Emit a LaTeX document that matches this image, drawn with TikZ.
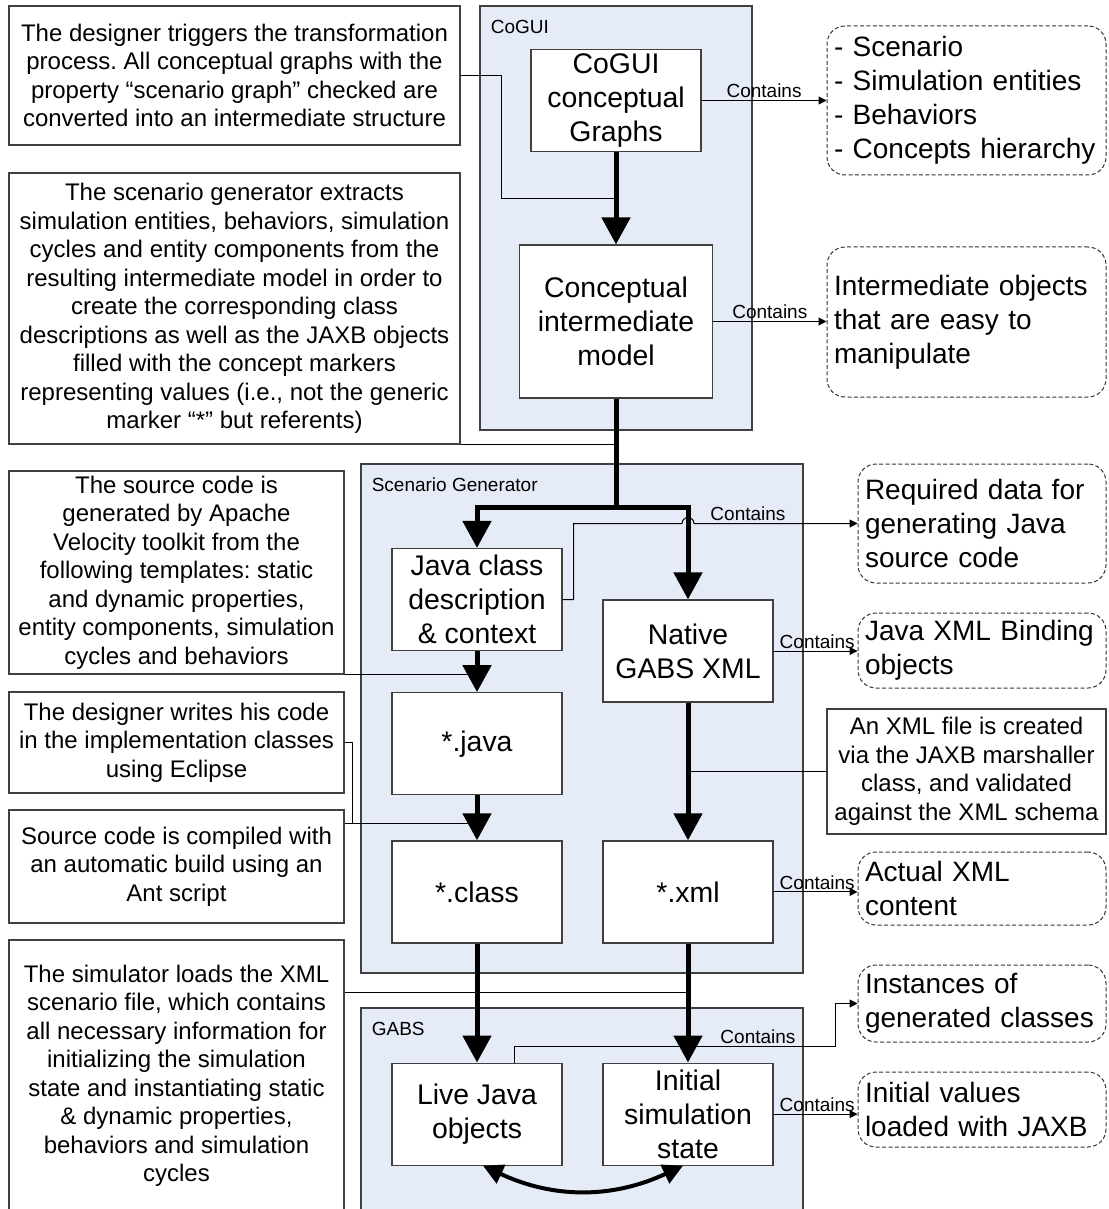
\documentclass[tikz,border=0pt]{standalone}
\usepackage{fontspec}
\setmainfont{Liberation Sans}
\frenchspacing
\usetikzlibrary{calc, positioning}
\usetikzlibrary{arrows.meta}
\definecolor{groupfill}{RGB}{230,236,247}
\definecolor{lineborder}{RGB}{64,64,64}
\def\mw{85pt}
\def\mh{51pt}
\tikzset{
    border/.style = {
        draw=lineborder, fill=white, rectangle, minimum width=\mw, minimum height=\mh, align=center, inner sep=0pt, line width=0.6pt,
        font=\fontsize{14.2}{17}\selectfont
    },
    noteborder/.style = {
        draw=lineborder, fill=white, rectangle, align=center, inner xsep=2pt, inner ysep=1pt, line width=0.6pt,
        font=\fontsize{12}{14.25}\selectfont
    },
    databorder/.style = {
        draw=black!80, rectangle, rounded corners=9pt, dash pattern=on 2pt off 1.2pt, line width=0.5pt,
        align=left, inner xsep=3.5pt, inner ysep=0pt, text width=#1,
        font=\fontsize{14}{17}\selectfont
    },
    groupborder/.style = {
        draw=lineborder, fill=groupfill, rectangle, line width=0.6pt
    },
    grouplabel/.style = {
        inner sep=0pt, font=\fontsize{9.5}{11}\selectfont
    },
}
\tikzset{
    flow/.style = {line width=2.5pt, -{Triangle[width=14pt,length=13.5pt]}},
    twoway/.style = {line width=2pt, {Triangle[width=10pt,length=10pt]}-{Triangle[width=10pt,length=10pt]}},
    contains/.style = {line width=0.5pt, -{Triangle[width=4pt,length=4pt]}},
    link/.style = {line width=0.5pt},
    ctext/.style = {above, inner sep=1pt, font=\fontsize{9.5}{11}\selectfont},
}

\begin{document}
\begin{tikzpicture}[x=0.5pt, y=-0.5pt]
        \useasboundingbox (0,0) rectangle (1108,1209);

        % Groups
        \node[groupborder, minimum width=136pt, minimum height=212pt] (cogui) at (616,218) {};
        \node[grouplabel, below right=7pt and 5.5pt of cogui.north west] (coguilabel) {CoGUI};
        \node[groupborder, minimum width=221pt, minimum height=254.5pt] (scengen) at (582,718.5) {};
        \node[grouplabel, below right=7pt and 5.5pt of scengen.north west] (scengenlabel) {Scenario Generator};
        \node[groupborder, minimum width=221pt, minimum height=116pt] (gabs) at (582,1124) {};
        \node[grouplabel, below right=7pt and 5.5pt of gabs.north west] (gabslabel) {GABS};

        % Notes
        \node[noteborder, minimum width=225.5pt, minimum height=69.5pt] (trigger) at (234.5,75.5)
            {The designer triggers the transformation\\process. All conceptual graphs with the\\property “scenario graph” checked are\\converted into an intermediate structure};
        \node[noteborder, minimum width=225.5pt, minimum height=135.5pt] (extract) at (234.5,308.5)
            {The scenario generator extracts\\simulation entities, behaviors, simulation\\cycles and entity components from the\\resulting intermediate model in order to\\create the corresponding class\\descriptions as well as the JAXB objects\\filled with the concept markers\\representing values (i.e., not the generic\\marker “*” but referents)};
        \node[noteborder, minimum width=167.5pt, minimum height=101.5pt] (velocity) at (176.5,572.5)
            {The source code is\\generated by Apache\\Velocity toolkit from the\\following templates: static\\and dynamic properties,\\entity components, simulation\\cycles and behaviors};
        \node[noteborder, minimum width=167.5pt, minimum height=50.5pt] (eclipse) at (176.5,742.5)
            {The designer writes his code\\in the implementation classes\\using Eclipse};
        \node[noteborder, minimum width=167.5pt, minimum height=56.5pt] (antbuild) at (176.5,866.5)
            {Source code is compiled with\\an automatic build using an\\Ant script};
        \node[noteborder, minimum width=167.5pt, minimum height=136pt] (simload) at (176.5,1076)
            {The simulator loads the XML\\scenario file, which contains\\all necessary information for\\initializing the simulation\\state and instantiating static\\\& dynamic properties,\\behaviors and simulation\\cycles};
        \node[noteborder, minimum width=139.5pt, minimum height=62.5pt] (marshal) at (966.5,771.5)
            {An XML file is created\\via the JAXB marshaller\\class, and validated\\against the XML schema};

        % Contents
        \node[databorder=132.5pt, minimum height=74.5pt] (scenariodata) at (966.5,100.5)
            {- Scenario\\- Simulation entities\\- Behaviors\\- Concepts hierarchy};
        \node[databorder=132.5pt, minimum height=75pt] (intermdata) at (966.5,322)
            {Intermediate objects\\that are easy to\\manipulate};
        \node[databorder=117pt, minimum height=59.5pt] (requireddata) at (982,523.5)
            {Required data for\\generating Java\\source code};
        \node[databorder=117pt, minimum height=37.5pt] (bindingdata) at (982,650.5)
            {Java XML Binding\\objects};
        \node[databorder=117pt, minimum height=36.5pt] (xmldata) at (982,888.5)
            {Actual XML\\content};
        \node[databorder=117pt, minimum height=38.5pt] (instancedata) at (982,1003.5)
            {Instances of\\generated classes};
        \node[databorder=117pt, minimum height=37.5pt] (initdata) at (982,1109.5)
            {Initial values\\loaded with JAXB};

        % Blocks
        \node[border] (graphs) at (616,100.5) {CoGUI\\conceptual\\Graphs};
        \node[border, minimum width=96.5pt, minimum height=76.5pt] (model) at (616,321.5) {Conceptual\\intermediate\\model};
        \node[border] (javadesc) at (477,599.5) {Java class\\description\\\& context};
        \node[border, below=20.5pt of javadesc] (java) {*.java};
        \node[border, below=22.5pt of java] (class) {*.class};
        \node[border] (native) at (688,651) {Native\\GABS XML};
        \node[border] (xml) at (class -| native) {*.xml};
        \node[border, below=59.5pt of class] (live) {Live Java\\objects};
        \node[border] (initstate) at (live -| native) {Initial\\simulation\\state};

        % Note links
        \draw[link] (trigger.east) -- ++(41,0) |- ($(graphs.south)!0.5!(model.north)$);
        \draw[link] (extract.south east) -- (extract.south east -| model.south);
        \draw[link] (velocity.south east) -- (velocity.south east -| java.north);
        \coordinate (buildin) at ($(java.south)!0.62!(class.north)$);
        \draw[link] (eclipse.east) -- ++(8,0) |- (buildin);
        \draw[link] (antbuild.east |- buildin) -- (buildin);
        \coordinate (loadin) at ($(xml.south)!0.41!(initstate.north)$);
        \draw[link] (simload.east |- loadin) -- (loadin);
        \draw[link] (marshal.west) -- (marshal.west -| native.south);

        % Contains links
        \draw[contains] (graphs.east) -- node[ctext] (c1) {Contains} (scenariodata.west);
        \draw[contains] (model.east) -- node[ctext] (c2) {Contains} (model.east -| intermdata.west);
        \draw[contains] (javadesc.east) -- ++(11,0) |- ([xshift=-3pt]native.north |- requireddata.west)
            arc[start angle=180, end angle=0, radius=3pt] -- node[ctext, pos=0.33] (c3) {Contains} (requireddata.west);
        \draw[contains] (native.east) -- node[ctext, pos=0.52] (c4) {Contains} (native.east -| bindingdata.west);
        \draw[contains] (xml.east) -- node[ctext, pos=0.52] (c5) {Contains} (xml.east -| xmldata.west);
        \draw[contains] ([xshift=18.5pt]live.north) -- ++(0,-16) -- node[ctext, pos=0.76] (c6) {Contains} ++(321,0) |- (instancedata.west);
        \draw[contains] (initstate.east) -- node[ctext, pos=0.52] (c7) {Contains} (initstate.east -| initdata.west);

        % Flow
        \draw[flow] (graphs.south) -- (model.north);
        \draw[flow] (model.south) -- ++(0,109) -| (javadesc.north);
        \draw[flow] (model.south) -- ++(0,109) -| (native.north);
        \draw[flow] (javadesc.south) -- (java.north);
        \draw[flow] (java.south) -- (class.north);
        \draw[flow] (native.south) -- (xml.north);
        \draw[flow] (class.south) -- (live.north);
        \draw[flow] (xml.south) -- (initstate.north);
        \draw[twoway] ([xshift=3pt]live.south) to[bend right=25] ([xshift=-2.5pt]initstate.south);
\end{tikzpicture}
\end{document}
